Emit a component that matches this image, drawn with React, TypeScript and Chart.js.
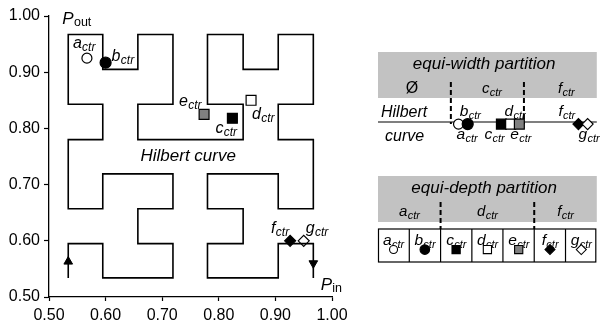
import React, { useEffect, useRef } from 'react';
import { Chart, registerables } from 'chart.js';

Chart.register(...registerables);

// ---------- data: main 2-D plot ----------
const AXIS_TICKS = [0.5, 0.6, 0.7, 0.8, 0.9, 1.0];

const HILBERT_X = [
  0.534, 0.534, 0.595, 0.595, 0.719, 0.719, 0.657, 0.657, 0.719, 0.719,
  0.595, 0.595, 0.534, 0.534, 0.595, 0.595, 0.534, 0.534, 0.595, 0.595,
  0.657, 0.657, 0.719, 0.719, 0.657, 0.657, 0.843, 0.843, 0.780, 0.780,
  0.843, 0.843, 0.905, 0.905, 0.967, 0.967, 0.905, 0.905, 0.967, 0.967,
  0.905, 0.905, 0.780, 0.780, 0.843, 0.843, 0.780, 0.780, 0.905, 0.905,
  0.967, 0.967,
];
const HILBERT_Y = [
  0.534, 0.595, 0.595, 0.534, 0.534, 0.595, 0.595, 0.657, 0.657, 0.719,
  0.719, 0.657, 0.657, 0.780, 0.780, 0.843, 0.843, 0.967, 0.967, 0.905,
  0.905, 0.967, 0.967, 0.843, 0.843, 0.780, 0.780, 0.843, 0.843, 0.967,
  0.967, 0.905, 0.905, 0.967, 0.967, 0.843, 0.843, 0.780, 0.780, 0.657,
  0.657, 0.719, 0.719, 0.657, 0.657, 0.595, 0.595, 0.534, 0.534, 0.595,
  0.595, 0.534,
];
const ARROW_X = [0.534, 0.967];
const ARROW_Y = [0.563, 0.560];
const ARROW_ROT = [0, 180];

const POINT_NAMES = ['a', 'b', 'c', 'd', 'e', 'f', 'g'];
const POINT_X = [0.567, 0.600, 0.824, 0.857, 0.774, 0.926, 0.950];
const POINT_Y = [0.925, 0.917, 0.818, 0.850, 0.825, 0.600, 0.600];

// ---------- data: 1-D view (position along the Hilbert curve, 0..1) ----------
const CURVE_POS = [0.368, 0.410, 0.564, 0.606, 0.646, 0.916, 0.958];
const EQUI_WIDTH_BOUNDS = [0.333, 0.667];
const EQUI_WIDTH_POS = [0.155, 0.52, 0.86];
const EQUI_WIDTH_LABELS = [['Ø', ''], ['c', 'ctr'], ['f', 'ctr']];
const EQUI_DEPTH_BOUNDS = [0.286, 0.714];
const EQUI_DEPTH_POS = [0.143, 0.5, 0.857];
const EQUI_DEPTH_LABELS = [['a', 'ctr'], ['d', 'ctr'], ['f', 'ctr']];
const TABLE_EDGES = [0, 0.143, 0.286, 0.429, 0.571, 0.714, 0.857, 1];
const TABLE_POS = [0.071, 0.214, 0.357, 0.5, 0.643, 0.786, 0.929];

// ---------- styles ----------
const FONT = '"Liberation Sans", Arial, Helvetica, sans-serif';
const MARK_STYLE = ['circle', 'circle', 'rect', 'rect', 'rect', 'rectRot', 'rectRot'];
const MARK_FILL = ['#ffffff', '#000000', '#000000', '#ffffff', '#808080', '#000000', '#ffffff'];
const MAIN_MARK_R = [5, 5.5, 7, 7, 7, 5.5, 5.5];
const LINE_MARK_R = [5, 5.5, 7, 7, 7, 5.5, 5.5];
const TABLE_MARK_R = [4, 4.8, 5.8, 5.8, 5.8, 5, 5];
// label offsets (px) of the letter's left edge / baseline from the marker
const MAIN_LABEL_OFF = [[-14, -10], [6, -2], [-17, 15], [1, 19], [-25, -8], [-19, -8], [2, -8]];
const LINE_LABEL_OFF = [[-2, 15], [-8, -8], [-17, 15], [-6, -8], [-9, 15], [-20, -8], [-9, 15]];
const GRAY = '#c2c2c2';

function drawSub(
  ctx: CanvasRenderingContext2D, main: string, sub: string, x: number, y: number,
  mainSize: number, subSize: number, align: 'left' | 'center' = 'left',
  mainItalic = true, subItalic = true, subDrop = 3,
) {
  const mf = `${mainItalic ? 'italic ' : ''}${mainSize}px ${FONT}`;
  const sf = `${subItalic ? 'italic ' : ''}${subSize}px ${FONT}`;
  ctx.font = mf;
  const w1 = ctx.measureText(main).width;
  ctx.font = sf;
  const w2 = sub ? ctx.measureText(sub).width : 0;
  const x0 = align === 'center' ? x - (w1 + w2) / 2 : x;
  ctx.textAlign = 'left';
  ctx.textBaseline = 'alphabetic';
  ctx.fillStyle = '#000';
  ctx.font = mf;
  ctx.fillText(main, x0, y);
  if (sub) {
    ctx.font = sf;
    ctx.fillText(sub, x0 + w1 + 0.3, y + subDrop);
  }
}

const mainLabels = {
  id: 'mainLabels',
  afterDatasetsDraw(chart: any) {
    const ctx = chart.ctx as CanvasRenderingContext2D;
    const xs = chart.scales.x;
    const ys = chart.scales.y;
    ctx.save();
    POINT_NAMES.forEach((n, i) => {
      const px = xs.getPixelForValue(POINT_X[i]);
      const py = ys.getPixelForValue(POINT_Y[i]);
      drawSub(ctx, n, 'ctr', px + MAIN_LABEL_OFF[i][0], py + MAIN_LABEL_OFF[i][1], 16, 12);
    });
    // axis titles
    drawSub(ctx, 'P', 'out', xs.getPixelForValue(0.5235), ys.getPixelForValue(0.9865), 17, 12.5, 'left', true, false, 2);
    drawSub(ctx, 'P', 'in', xs.getPixelForValue(0.98), ys.getPixelForValue(0.513), 17, 12.5, 'left', true, false, 2);
    ctx.font = `italic 17px ${FONT}`;
    ctx.textAlign = 'center';
    ctx.fillStyle = '#000';
    ctx.fillText('Hilbert curve', xs.getPixelForValue(0.746), ys.getPixelForValue(0.742));
    ctx.restore();
  },
};

// layout of the right panel (px)
const BAND1 = { top: 52, bottom: 98, title: 69, row: 93 };
const LINE_Y = 122;
const BAND2 = { top: 176, bottom: 222, title: 193, row: 216 };
const TABLE = { top: 229, bottom: 262, label: 245, mark: 254 };
const Y_PER_UNIT = TABLE.mark - LINE_Y;

const sidePlugin = {
  id: 'sidePanel',
  beforeDatasetsDraw(chart: any) {
    const ctx = chart.ctx as CanvasRenderingContext2D;
    const xs = chart.scales.x;
    const X = (v: number) => xs.getPixelForValue(v);
    ctx.save();
    // bands
    ctx.fillStyle = GRAY;
    ctx.fillRect(X(0), BAND1.top, X(1) - X(0), BAND1.bottom - BAND1.top);
    ctx.fillRect(X(0), BAND2.top, X(1) - X(0), BAND2.bottom - BAND2.top);
    ctx.fillStyle = '#000';
    ctx.font = `italic 17px ${FONT}`;
    ctx.textAlign = 'center';
    ctx.fillText('equi-width partition', X(0.485), BAND1.title);
    ctx.fillText('equi-depth partition', X(0.485), BAND2.title);
    EQUI_WIDTH_LABELS.forEach((l, i) => {
      if (l[1]) drawSub(ctx, l[0], l[1], X(EQUI_WIDTH_POS[i]), BAND1.row, 15, 11, 'center');
      else {
        ctx.font = `16px ${FONT}`;
        ctx.textAlign = 'center';
        ctx.fillText(l[0], X(EQUI_WIDTH_POS[i]), BAND1.row);
      }
    });
    EQUI_DEPTH_LABELS.forEach((l, i) => {
      drawSub(ctx, l[0], l[1], X(EQUI_DEPTH_POS[i]), BAND2.row, 15, 11, 'center');
    });
    // hilbert line
    ctx.strokeStyle = '#555';
    ctx.lineWidth = 1.5;
    ctx.beginPath();
    ctx.moveTo(X(0), LINE_Y);
    ctx.lineTo(X(1), LINE_Y);
    ctx.stroke();
    ctx.font = `italic 16px ${FONT}`;
    ctx.textAlign = 'left';
    ctx.fillText('Hilbert', X(0) + 3, 117);
    ctx.fillText('curve', X(0) + 7, 141);
    // dashed partitions
    ctx.strokeStyle = '#000';
    ctx.lineWidth = 2;
    ctx.setLineDash([5, 3]);
    EQUI_WIDTH_BOUNDS.forEach((b) => {
      ctx.beginPath();
      ctx.moveTo(X(b), BAND1.row - 11);
      ctx.lineTo(X(b), LINE_Y + 2);
      ctx.stroke();
    });
    EQUI_DEPTH_BOUNDS.forEach((b) => {
      ctx.beginPath();
      ctx.moveTo(X(b), BAND2.row - 14);
      ctx.lineTo(X(b), TABLE.top);
      ctx.stroke();
    });
    ctx.setLineDash([]);
    // table
    ctx.lineWidth = 1.2;
    ctx.strokeRect(X(0) + 0.5, TABLE.top, X(1) - X(0) - 1.5, TABLE.bottom - TABLE.top);
    TABLE_EDGES.slice(1, -1).forEach((e) => {
      ctx.beginPath();
      ctx.moveTo(X(e), TABLE.top);
      ctx.lineTo(X(e), TABLE.bottom);
      ctx.stroke();
    });
    POINT_NAMES.forEach((n, i) => {
      drawSub(ctx, n, 'ctr', X(TABLE_POS[i]), TABLE.label, 15.5, 11, 'center');
    });
    ctx.restore();
  },
  afterDatasetsDraw(chart: any) {
    const ctx = chart.ctx as CanvasRenderingContext2D;
    const xs = chart.scales.x;
    const ys = chart.scales.y;
    ctx.save();
    POINT_NAMES.forEach((n, i) => {
      const px = xs.getPixelForValue(CURVE_POS[i]);
      const py = ys.getPixelForValue(0);
      drawSub(ctx, n, 'ctr', px + LINE_LABEL_OFF[i][0], py + LINE_LABEL_OFF[i][1], 15.5, 11);
    });
    ctx.restore();
  },
};

function axisCfg(isX: boolean) {
  return {
    type: 'linear',
    min: 0.5,
    max: 1.0,
    afterBuildTicks: (s: any) => { s.ticks = AXIS_TICKS.map((v) => ({ value: v })); },
    afterFit: (s: any) => { if (isX) s.height = 32; else s.width = 49; },
    ticks: {
      callback: (v: any) => Number(v).toFixed(2),
      color: '#000',
      font: { family: FONT, size: 16 },
      padding: isX ? 5 : 4,
      maxRotation: 0,
    },
    grid: { drawOnChartArea: false, color: '#000', tickLength: isX ? 4 : 5, tickWidth: 1.2 },
    border: { display: true, color: '#000', width: 1.3 },
  };
}

export default function App() {
  const leftRef = useRef<HTMLCanvasElement>(null);
  const rightRef = useRef<HTMLCanvasElement>(null);

  useEffect(() => {
    const main = new Chart(leftRef.current as HTMLCanvasElement, {
      type: 'scatter',
      data: {
        datasets: [
          {
            label: 'Hilbert curve',
            data: HILBERT_X.map((x, i) => ({ x, y: HILBERT_Y[i] })),
            showLine: true,
            borderColor: '#000',
            borderWidth: 1.6,
            borderJoinStyle: 'miter',
            pointRadius: 0,
            tension: 0,
            fill: false,
            clip: false,
          },
          {
            label: 'arrows',
            data: ARROW_X.map((x, i) => ({ x, y: ARROW_Y[i] })),
            showLine: false,
            pointStyle: 'triangle',
            pointRotation: ARROW_ROT,
            pointRadius: 5,
            pointBackgroundColor: '#000',
            pointBorderColor: '#000',
            pointBorderWidth: 1,
          },
          {
            label: 'centers',
            data: POINT_X.map((x, i) => ({ x, y: POINT_Y[i] })),
            showLine: false,
            pointStyle: MARK_STYLE,
            pointRadius: MAIN_MARK_R,
            pointBackgroundColor: MARK_FILL,
            pointBorderColor: '#000',
            pointBorderWidth: 1.2,
            clip: false,
          },
        ],
      } as any,
      options: {
        responsive: false,
        animation: false,
        events: [],
        layout: { padding: { left: 0, right: 28, top: 16, bottom: 0 } },
        scales: { x: axisCfg(true), y: axisCfg(false) } as any,
        plugins: { legend: { display: false }, tooltip: { enabled: false } },
      },
      plugins: [mainLabels],
    } as any);

    const yMax = LINE_Y / Y_PER_UNIT;
    const yMin = -(329 - LINE_Y) / Y_PER_UNIT;
    const side = new Chart(rightRef.current as HTMLCanvasElement, {
      type: 'scatter',
      data: {
        datasets: [
          {
            label: 'curve order',
            data: CURVE_POS.map((x) => ({ x, y: 0 })),
            pointStyle: MARK_STYLE,
            pointRadius: LINE_MARK_R,
            pointBackgroundColor: MARK_FILL,
            pointBorderColor: '#000',
            pointBorderWidth: 1.2,
            clip: false,
          },
          {
            label: 'table',
            data: TABLE_POS.map((x) => ({ x, y: -1 })),
            pointStyle: MARK_STYLE,
            pointRadius: TABLE_MARK_R,
            pointBackgroundColor: MARK_FILL,
            pointBorderColor: '#000',
            pointBorderWidth: 1.1,
            clip: false,
          },
        ],
      } as any,
      options: {
        responsive: false,
        animation: false,
        events: [],
        layout: { padding: { left: 18, right: 0, top: 0, bottom: 0 } },
        scales: {
          x: { type: 'linear', min: 0, max: 1, display: false },
          y: { type: 'linear', min: yMin, max: yMax, display: false },
        } as any,
        plugins: { legend: { display: false }, tooltip: { enabled: false } },
      },
      plugins: [sidePlugin],
    } as any);

    return () => {
      main.destroy();
      side.destroy();
    };
  }, []);

  return (
    <div style={{ position: 'absolute', left: 0, top: 0, width: 605, height: 329, background: '#fff' }}>
      <canvas ref={leftRef} width={360} height={329} style={{ position: 'absolute', left: 0, top: 0 }} />
      <canvas ref={rightRef} width={245} height={329} style={{ position: 'absolute', left: 360, top: 0 }} />
    </div>
  );
}
